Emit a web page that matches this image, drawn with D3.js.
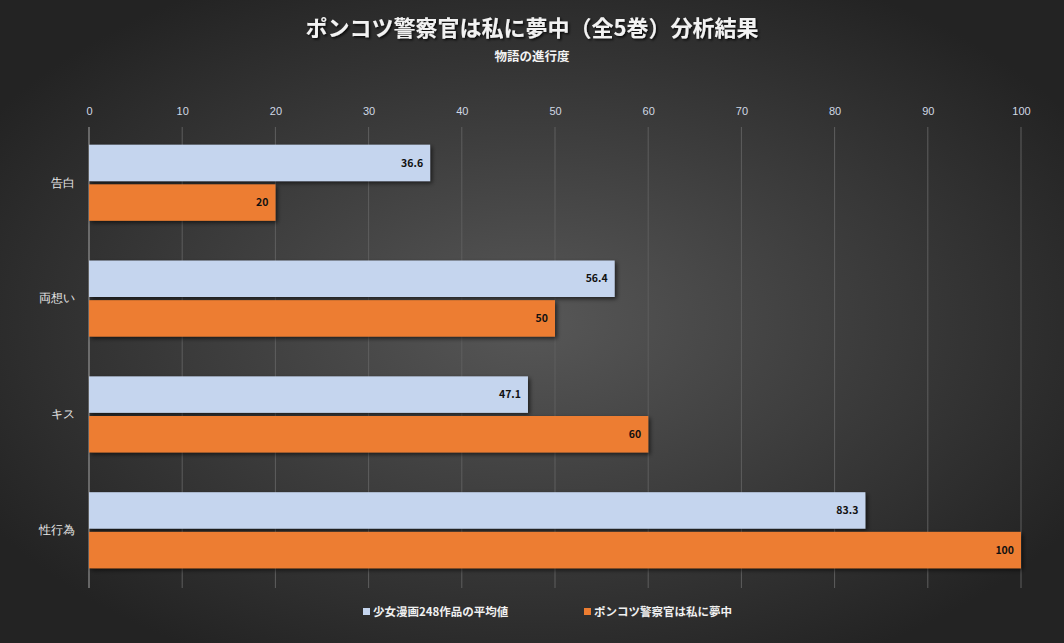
<!DOCTYPE html>
<html>
<head>
<meta charset="utf-8">
<script src="https://cdn.jsdelivr.net/npm/d3@7"></script>
<style>
  body { margin: 0; background: #262626; }
  svg { display: block; font-family: "Noto Sans CJK JP", "Noto Sans", sans-serif; }
</style>
</head>
<body>
<svg id="chart"></svg>
<script>
const categories = ['告白', '両想い', 'キス', '性行為'];
const seriesNames = ['少女漫画248作品の平均値', 'ポンコツ警察官は私に夢中'];
const averageValues = [36.6, 56.4, 47.1, 83.3];
const ponkotsuValues = [20, 50, 60, 100];
const xTicks = [0, 10, 20, 30, 40, 50, 60, 70, 80, 90, 100];
const colors = ['#c5d5ee', '#ed7d31'];

const W = 1064, H = 643;
const margin = { top: 125, right: 43, bottom: 55, left: 89 };
const iw = W - margin.left - margin.right;
const ih = H - margin.top - margin.bottom;

const svg = d3.select('#chart').attr('width', W).attr('height', H);

// background gradient and shadows
const defs = svg.append('defs');
const bg = defs.append('radialGradient').attr('id', 'bg')
  .attr('cx', '50%').attr('cy', '50%').attr('r', '60%');
bg.append('stop').attr('offset', '0%').attr('stop-color', '#575757');
bg.append('stop').attr('offset', '100%').attr('stop-color', '#232323');

const sh = defs.append('filter').attr('id', 'shadow')
  .attr('x', '-5%').attr('y', '-20%').attr('width', '110%').attr('height', '150%');
sh.append('feDropShadow').attr('dx', 2).attr('dy', 2).attr('stdDeviation', 2)
  .attr('flood-color', '#000').attr('flood-opacity', 0.6);

const tsh = defs.append('filter').attr('id', 'tshadow');
tsh.append('feDropShadow').attr('dx', 1.5).attr('dy', 1.5).attr('stdDeviation', 1.2)
  .attr('flood-color', '#000').attr('flood-opacity', 0.8);

svg.append('rect').attr('width', W).attr('height', H).attr('fill', 'url(#bg)');

// titles
svg.append('text').attr('x', W / 2).attr('y', 36).attr('text-anchor', 'middle')
  .attr('fill', '#f2f2f2').attr('font-size', 22).attr('font-weight', 'bold')
  .attr('filter', 'url(#tshadow)')
  .text('ポンコツ警察官は私に夢中（全5巻）分析結果');
svg.append('text').attr('x', W / 2).attr('y', 61).attr('text-anchor', 'middle')
  .attr('fill', '#f2f2f2').attr('font-size', 12.5).attr('font-weight', 'bold')
  .text('物語の進行度');

const g = svg.append('g').attr('transform', `translate(${margin.left},${margin.top})`);

const x = d3.scaleLinear().domain([0, 100]).range([0, iw]);
const y = d3.scaleBand().domain(categories).range([0, ih]).paddingInner(0.343).paddingOuter(0.17);
const ySub = d3.scaleBand().domain(seriesNames).range([0, y.bandwidth()]).paddingInner(0.08);

// gridlines
g.append('g').selectAll('line').data(xTicks).join('line')
  .attr('x1', d => x(d)).attr('x2', d => x(d))
  .attr('y1', 2).attr('y2', ih)
  .attr('stroke', d => d === 0 ? '#a6a6a6' : '#5e5e5e').attr('stroke-width', 1);

// top axis labels
const xAxis = d3.axisTop(x).tickValues(xTicks).tickSize(0).tickPadding(10);
g.append('g').call(xAxis)
  .call(a => a.select('.domain').remove())
  .selectAll('text').attr('fill', '#d0d8e4').attr('font-size', 11);

// category axis labels
const yAxis = d3.axisLeft(y).tickSize(0).tickPadding(14);
g.append('g').call(yAxis)
  .call(a => a.select('.domain').remove())
  .selectAll('text').attr('fill', '#e6e6e6').attr('font-size', 12);

const rows = categories.map((c, i) => ({
  cat: c,
  values: [averageValues[i], ponkotsuValues[i]]
}));

const groups = g.append('g').selectAll('g').data(rows).join('g')
  .attr('transform', d => `translate(0,${y(d.cat)})`);

const bars = groups.selectAll('g').data(d => d.values.map((v, j) => ({ v, name: seriesNames[j], j })))
  .join('g');

bars.append('rect')
  .attr('x', 0).attr('y', d => ySub(d.name))
  .attr('width', d => x(d.v)).attr('height', ySub.bandwidth())
  .attr('fill', d => colors[d.j]).attr('filter', 'url(#shadow)');

bars.append('text')
  .attr('x', d => x(d.v) - 7).attr('y', d => ySub(d.name) + ySub.bandwidth() / 2)
  .attr('dy', '0.35em').attr('text-anchor', 'end')
  .attr('font-size', 10.5).attr('font-weight', 'bold').attr('fill', '#111')
  .text(d => d.v);

// legend
const legendX = [363, 584];
const legend = svg.append('g').selectAll('g').data(seriesNames).join('g')
  .attr('transform', (d, i) => `translate(${legendX[i]},612)`);
legend.append('rect').attr('x', 0).attr('y', -4).attr('width', 7).attr('height', 7)
  .attr('fill', (d, i) => colors[i]);
legend.append('text').attr('x', 10).attr('y', 0).attr('dy', '0.35em')
  .attr('fill', '#f0f0f0').attr('font-size', 11.5).attr('font-weight', 'bold')
  .text(d => d);
</script>
</body>
</html>
